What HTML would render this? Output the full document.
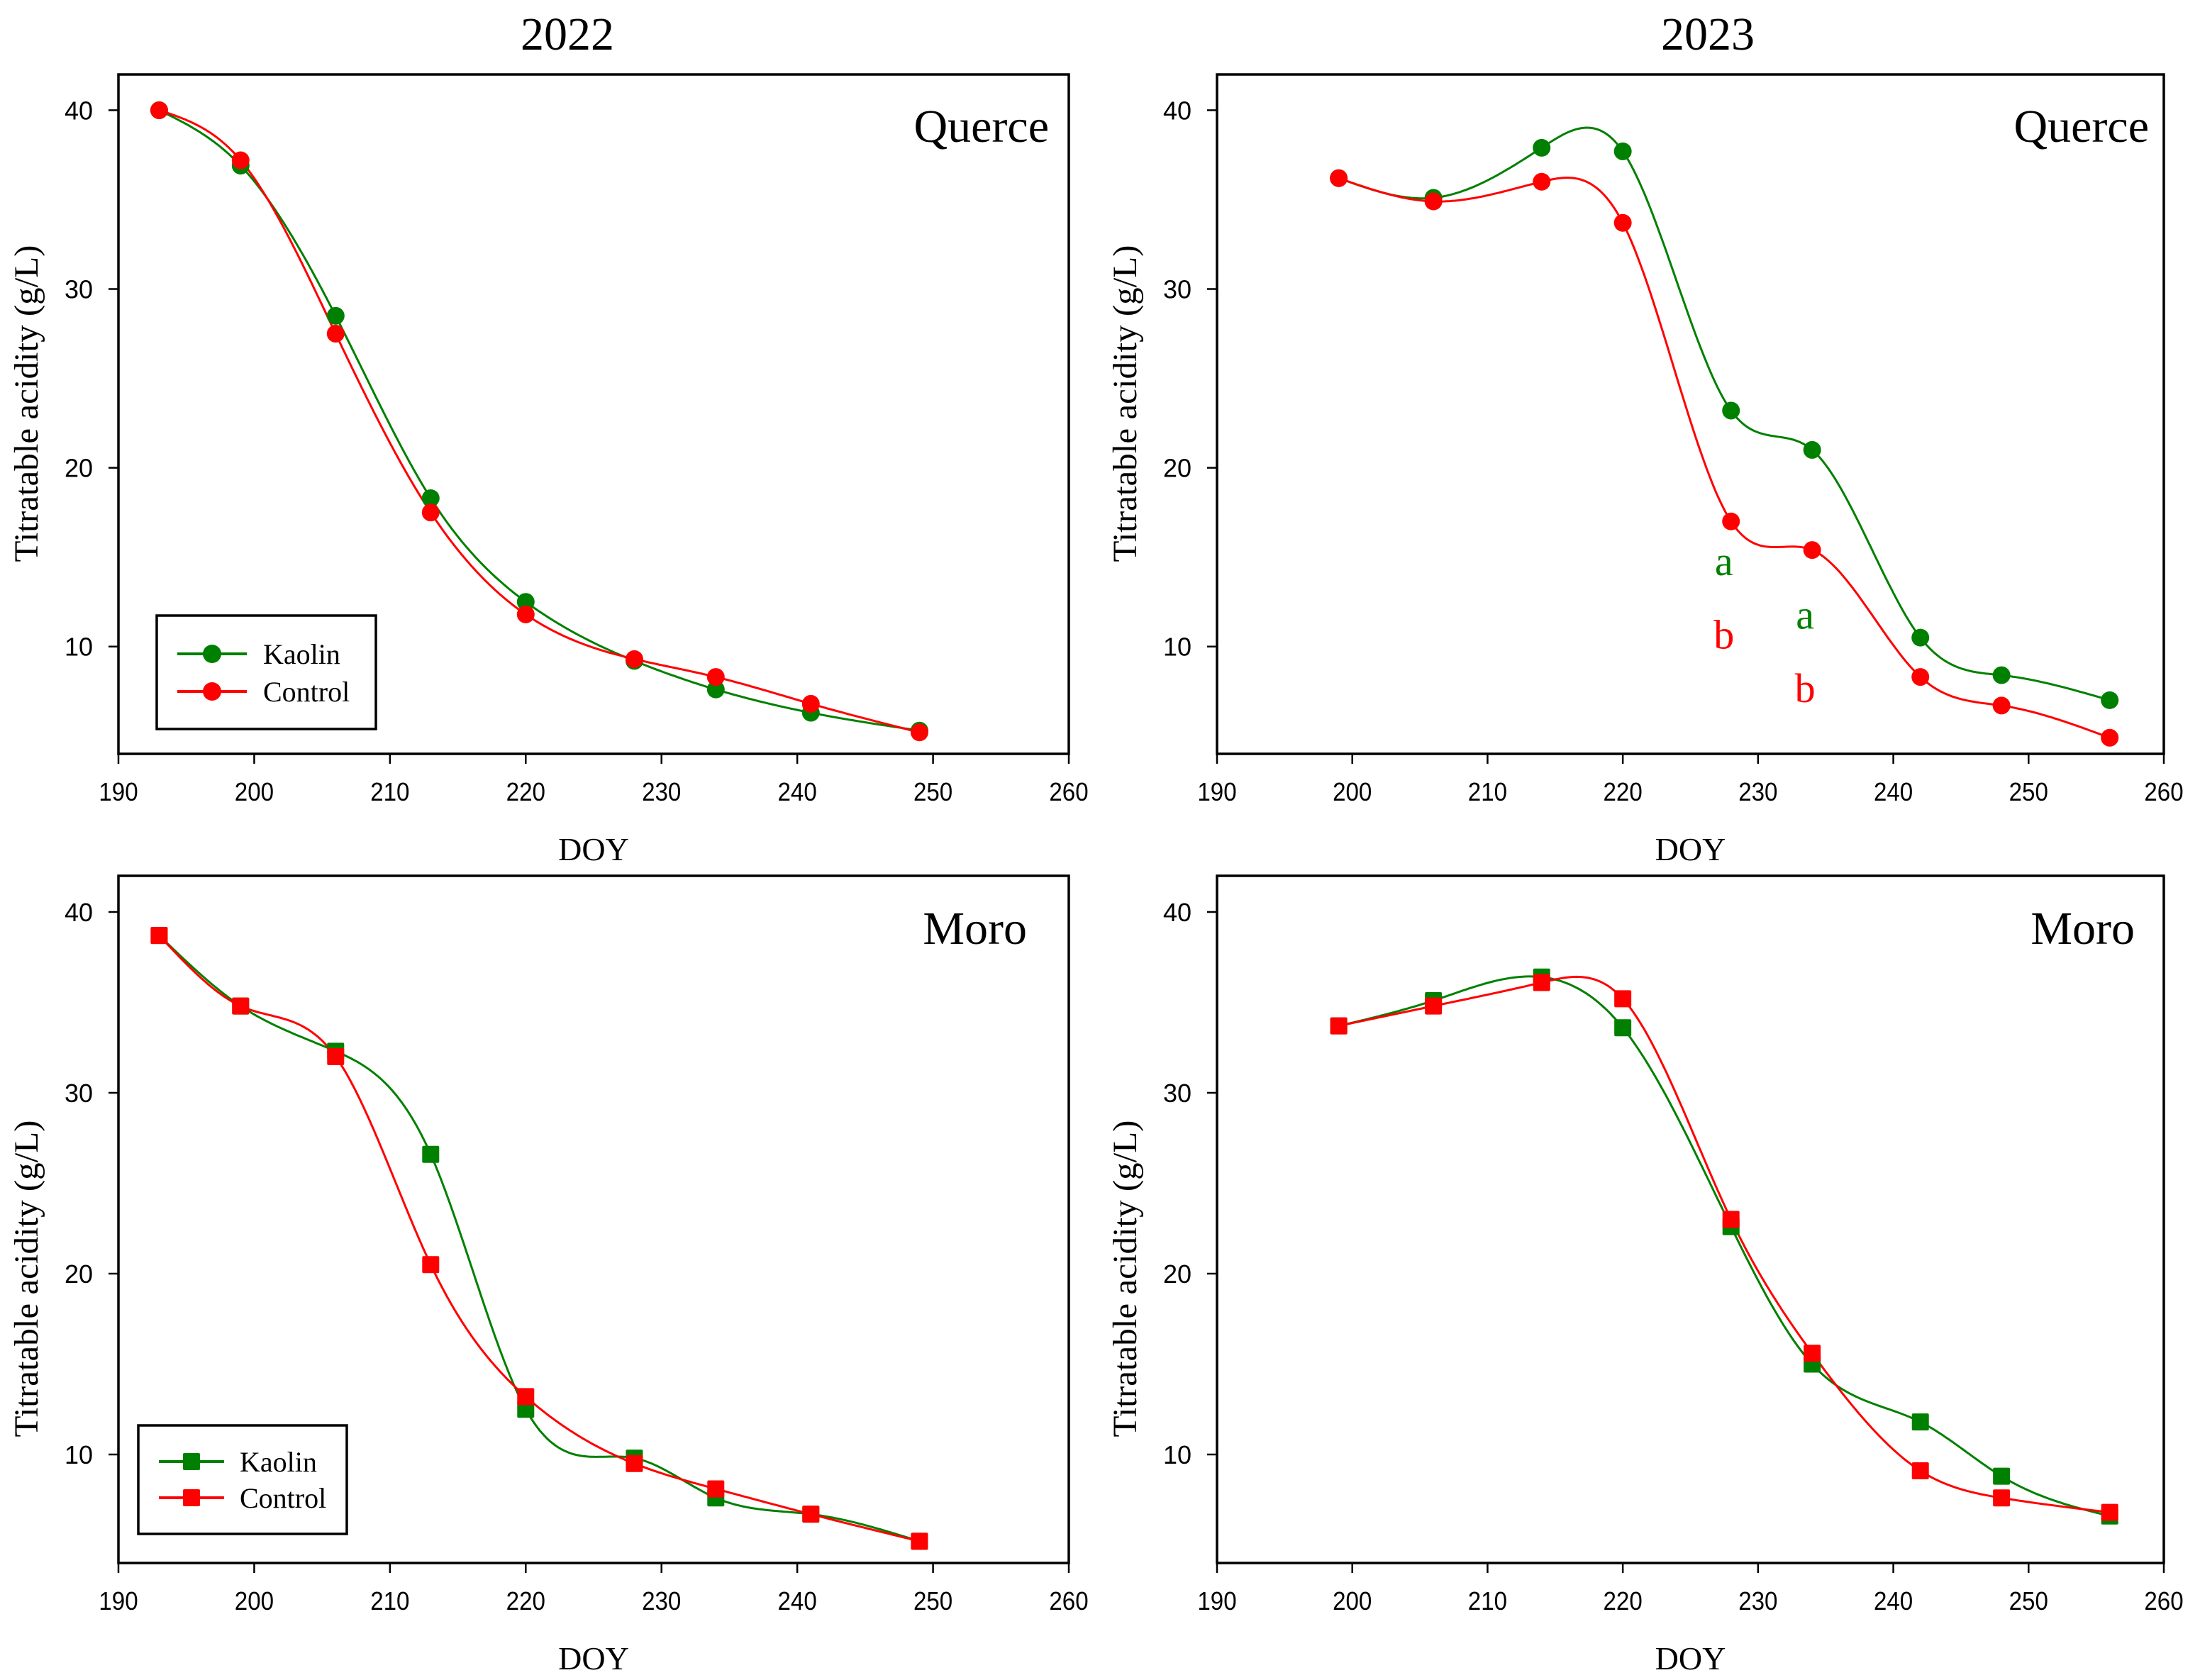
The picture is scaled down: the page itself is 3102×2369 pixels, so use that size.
<!DOCTYPE html>
<html><head><meta charset="utf-8"><style>
html,body{margin:0;padding:0;background:#fff;}
svg text{font-family:"Liberation Serif",serif;}
.tick{font-family:"Liberation Sans",sans-serif;font-size:36px;}
</style></head><body>
<svg id="chart" xmlns="http://www.w3.org/2000/svg" width="3102" height="2364" viewBox="0 0 3102 2364">
<rect width="3102" height="2364" fill="#fff"/>
<text x="800" y="70" font-size="66" text-anchor="middle">2022</text>
<text x="2408" y="70" font-size="66" text-anchor="middle">2023</text>
</svg>
<script>
// Querce 2022
const q22Doy = [193,199,206,213,220,228,234,241,249];
const q22Kaolin = [40.0,36.9,28.5,18.3,12.5,9.2,7.6,6.3,5.3];
const q22Control = [40.0,37.2,27.5,17.5,11.8,9.3,8.3,6.8,5.2];
// Querce 2023
const q23Doy = [199,206,214,220,228,234,242,248,256];
const q23Kaolin = [36.2,35.1,37.9,37.7,23.2,21.0,10.5,8.4,7.0];
const q23Control = [36.2,34.9,36.0,33.7,17.0,15.4,8.3,6.7,4.9];
// Moro 2022
const m22Doy = [193,199,206,213,220,228,234,241,249];
const m22Kaolin = [38.7,34.8,32.3,26.6,12.5,9.8,7.6,6.7,5.2];
const m22Control = [38.7,34.8,32.0,20.5,13.2,9.5,8.1,6.7,5.2];
// Moro 2023
const m23Doy = [199,206,214,220,228,234,242,248,256];
const m23Kaolin = [33.7,35.1,36.4,33.6,22.6,15.0,11.8,8.8,6.6];
const m23Control = [33.7,34.8,36.1,35.2,23.0,15.6,9.1,7.6,6.8];
// ticks
const xTicks = [190,200,210,220,230,240,250,260];
const yTicks = [10,20,30,40];
// significance letters
const sigDoy = [228,228,234,234];
const sigVal = [14.0,9.9,11.0,6.9];
const sigLetter = ['a','b','a','b'];
const sigSeries = ['k','c','k','c'];

const NS = 'http://www.w3.org/2000/svg';
const svg = document.getElementById('chart');
const GREEN = '#008000', RED = '#ff0000';

function mk(tag, attrs, parent) {
  const e = document.createElementNS(NS, tag);
  for (const k in attrs) e.setAttribute(k, attrs[k]);
  (parent || svg).appendChild(e);
  return e;
}

function spline(xs, ys) {
  const n = xs.length, h = [], a = [], l = [1], mu = [0], z = [0], c = new Array(n).fill(0), b = [], d = [];
  for (let i = 0; i < n - 1; i++) h.push(xs[i+1] - xs[i]);
  for (let i = 1; i < n - 1; i++) a[i] = 3/h[i]*(ys[i+1]-ys[i]) - 3/h[i-1]*(ys[i]-ys[i-1]);
  for (let i = 1; i < n - 1; i++) {
    l[i] = 2*(xs[i+1]-xs[i-1]) - h[i-1]*mu[i-1];
    mu[i] = h[i]/l[i];
    z[i] = (a[i] - h[i-1]*z[i-1])/l[i];
  }
  l[n-1] = 1; z[n-1] = 0; c[n-1] = 0;
  for (let j = n - 2; j >= 0; j--) {
    c[j] = z[j] - mu[j]*c[j+1];
    b[j] = (ys[j+1]-ys[j])/h[j] - h[j]*(c[j+1] + 2*c[j])/3;
    d[j] = (c[j+1]-c[j])/(3*h[j]);
  }
  const pts = [];
  for (let j = 0; j < n - 1; j++) {
    const steps = 40;
    for (let s = 0; s <= steps; s++) {
      if (j > 0 && s === 0) continue;
      const t = h[j]*s/steps;
      pts.push([xs[j]+t, ys[j] + b[j]*t + c[j]*t*t + d[j]*t*t*t]);
    }
  }
  return pts;
}

function panel(cfg) {
  const g = mk('g', {});
  
  
  const X = v => cfg.x0 + (v - 190) / 70 * (cfg.x1 - cfg.x0);
  const Y = v => cfg.y1 - (v - 4) / 38 * (cfg.y1 - cfg.y0);
  const frame = mk('rect', {x: cfg.x0, y: cfg.y0, width: cfg.x1 - cfg.x0, height: cfg.y1 - cfg.y0, fill: 'none', stroke: '#000', 'stroke-width': 3.5}, g);
  
  
  xTicks.forEach(t => {
    const ln = mk('line', {x1: X(t), x2: X(t), y1: cfg.y1, y2: cfg.y1 + 14, stroke: '#000', 'stroke-width': 2.5}, g);
    
    
    const tx = mk('text', {x: X(t), y: cfg.y1 + 66, 'text-anchor': 'middle', class: 'tick', transform: `translate(${X(t)},0) scale(0.92,1) translate(${-X(t)},0)`}, g);
    
    
    tx.textContent = t;
  });
  yTicks.forEach(t => {
    const ln = mk('line', {x1: cfg.x0 - 14, x2: cfg.x0, y1: Y(t), y2: Y(t), stroke: '#000', 'stroke-width': 2.5}, g);
    
    
    const tx = mk('text', {x: cfg.x0 - 36, y: Y(t) + 13, 'text-anchor': 'end', class: 'tick'}, g);
    
    
    tx.textContent = t;
  });
  const xt = mk('text', {x: (cfg.x0 + cfg.x1) / 2, y: cfg.y1 + 150, 'text-anchor': 'middle', 'font-size': 46}, g);
  
  
  xt.textContent = 'DOY';
  const yt = mk('text', {x: 0, y: 0, 'text-anchor': 'middle', 'font-size': 48, textLength: 447, lengthAdjust: 'spacingAndGlyphs', transform: `translate(${cfg.x0 - 114},${cfg.ytc}) rotate(-90)`}, g);
  
  
  yt.textContent = 'Titratable acidity (g/L)';
  const lbl = mk('text', {x: cfg.labelX, y: cfg.labelY, 'text-anchor': 'end', 'font-size': 66}, g);
  
  
  lbl.textContent = cfg.label;

  const series = [[cfg.k, GREEN, 'kaolin'], [cfg.c, RED, 'control']];
  series.forEach(([vals, col, nm]) => {
    const pts = spline(cfg.doy, vals);
    const d = pts.map((p, i) => (i ? 'L' : 'M') + X(p[0]).toFixed(1) + ',' + Y(p[1]).toFixed(1)).join('');
    const path = mk('path', {d: d, fill: 'none', stroke: col, 'stroke-width': 3}, g);
    
    
  });
  series.forEach(([vals, col, nm]) => {
    cfg.doy.forEach((dv, i) => {
      let m;
      if (cfg.square) m = mk('rect', {x: X(dv) - 12, y: Y(vals[i]) - 12, width: 24, height: 24, rx: 2, fill: col}, g);
      else m = mk('circle', {cx: X(dv), cy: Y(vals[i]), r: 12.5, fill: col}, g);
      
      
    });
  });
  if (cfg.legend) {
    const L = cfg.legend;
    const lg = mk('g', {}, g);
    
    
    mk('rect', {x: L.x, y: L.y, width: L.w, height: L.h, fill: '#fff', stroke: '#000', 'stroke-width': 3.5}, lg);
    [['Kaolin', GREEN, L.r1], ['Control', RED, L.r2]].forEach(([t, col, ry]) => {
      const e = mk('g', {}, lg);
      
      
      mk('line', {x1: L.lx0, x2: L.lx1, y1: ry, y2: ry, stroke: col, 'stroke-width': 4}, e);
      const mx = (L.lx0 + L.lx1) / 2;
      if (cfg.square) mk('rect', {x: mx - 12, y: ry - 12, width: 24, height: 24, rx: 2, fill: col}, e);
      else mk('circle', {cx: mx, cy: ry, r: 13, fill: col}, e);
      const tx = mk('text', {x: L.tx, y: ry + 14, 'font-size': 40}, e);
      tx.textContent = t;
    });
  }
  if (cfg.sig) {
    sigDoy.forEach((dv, i) => {
      const t = mk('text', {x: X(dv) - 10, y: Y(sigVal[i]), 'text-anchor': 'middle', 'font-size': 58, fill: sigSeries[i] === 'k' ? GREEN : RED}, g);
      
      
      t.textContent = sigLetter[i];
    });
  }
}

panel({name: 'panel-querce-2022', x0: 167, x1: 1507, y0: 105, y1: 1063, ytc: 569, doy: q22Doy, k: q22Kaolin, c: q22Control,
  label: 'Querce', labelX: 1479, labelY: 200, square: false,
  legend: {x: 221, y: 868, w: 309, h: 160, r1: 922, r2: 975, lx0: 250, lx1: 348, tx: 371}});
panel({name: 'panel-querce-2023', x0: 1716, x1: 3051, y0: 105, y1: 1063, ytc: 569, doy: q23Doy, k: q23Kaolin, c: q23Control,
  label: 'Querce', labelX: 3030, labelY: 200, square: false, sig: true});
panel({name: 'panel-moro-2022', x0: 167, x1: 1507, y0: 1235, y1: 2204, ytc: 1803, doy: m22Doy, k: m22Kaolin, c: m22Control,
  label: 'Moro', labelX: 1448, labelY: 1331, square: true,
  legend: {x: 195, y: 2010, w: 294, h: 153, r1: 2061, r2: 2112, lx0: 224, lx1: 316, tx: 338}});
panel({name: 'panel-moro-2023', x0: 1716, x1: 3051, y0: 1235, y1: 2204, ytc: 1803, doy: m23Doy, k: m23Kaolin, c: m23Control,
  label: 'Moro', labelX: 3010, labelY: 1331, square: true});
</script>
</body></html>
